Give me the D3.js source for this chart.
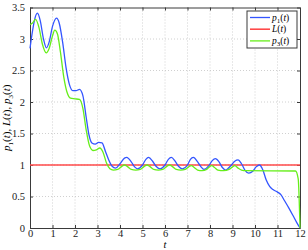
<!DOCTYPE html>
<html>
<head>
<meta charset="utf-8">
<script src="https://cdn.jsdelivr.net/npm/d3@7"></script>
<style>
  body { margin: 0; background: #fff; }
  text { font-family: "Liberation Serif", "DejaVu Serif", serif; }
</style>
</head>
<body>
<svg id="chart"></svg>
<script>
// data
var tP1 = [0, 0.1, 0.2, 0.33, 0.45, 0.6, 0.73, 0.85, 1.0, 1.18, 1.3, 1.45, 1.6, 1.75, 1.9, 2.05, 2.2, 2.35, 2.5, 2.62, 2.75, 2.9, 3.05, 3.2, 3.35, 3.5, 3.65, 3.8,
  4.0, 4.2, 4.3, 4.5, 4.65, 4.78, 5.0, 5.15, 5.27, 5.45, 5.6, 5.78, 6.0, 6.15, 6.28, 6.45, 6.6, 6.77, 7.0, 7.13, 7.26, 7.45, 7.6, 7.73,
  7.95, 8.1, 8.24, 8.4, 8.55, 8.7, 8.9, 9.1, 9.25, 9.4, 9.55, 9.72, 9.9, 10.05, 10.2, 10.35, 10.5, 10.65, 10.8, 11.0, 11.15, 11.3, 11.5, 11.7, 11.85, 12.0];
var p1 = [2.85, 3.1, 3.3, 3.41, 3.3, 3.0, 2.86, 2.95, 3.2, 3.33, 3.25, 2.95, 2.55, 2.28, 2.18, 2.18, 2.2, 2.1, 1.75, 1.48, 1.35, 1.33, 1.36, 1.35, 1.22, 1.08, 0.98, 0.95,
  1.02, 1.11, 1.12, 1.05, 0.97, 0.94, 1.0, 1.09, 1.12, 1.06, 0.98, 0.94, 1.0, 1.09, 1.12, 1.06, 0.98, 0.94, 1.0, 1.09, 1.12, 1.05, 0.97, 0.93,
  0.99, 1.07, 1.1, 1.05, 0.96, 0.92, 0.98, 1.06, 1.08, 1.02, 0.92, 0.87, 0.9, 0.97, 1.0, 0.92, 0.76, 0.66, 0.61, 0.57, 0.53, 0.44, 0.32, 0.19, 0.09, 0.0];

var tP3 = [0, 0.1, 0.25, 0.4, 0.55, 0.72, 0.85, 1.0, 1.1, 1.22, 1.35, 1.5, 1.65, 1.8, 2.0, 2.2, 2.35, 2.5, 2.65, 2.8, 2.95, 3.1, 3.25, 3.4, 3.55, 3.7, 3.9,
  4.05, 4.2, 4.35, 4.5, 4.7, 4.9, 5.05, 5.2, 5.35, 5.5, 5.7, 5.9, 6.05, 6.2, 6.35, 6.5, 6.7, 6.9, 7.05, 7.17, 7.3, 7.45, 7.65, 7.85,
  7.97, 8.08, 8.2, 8.35, 8.6, 8.85, 9.0, 9.1, 9.25, 9.4, 9.6, 11.8, 11.92, 12.0];
var p3 = [3.23, 3.25, 3.31, 3.18, 2.92, 2.78, 2.85, 3.05, 3.14, 3.08, 2.8, 2.4, 2.15, 2.06, 2.05, 2.04, 1.9, 1.55, 1.3, 1.23, 1.24, 1.27, 1.2, 1.03, 0.94, 0.92, 0.93,
  0.97, 1.0, 0.97, 0.93, 0.92, 0.93, 0.97, 1.0, 0.97, 0.93, 0.92, 0.93, 0.97, 1.0, 0.97, 0.93, 0.92, 0.93, 0.97, 0.99, 0.96, 0.92, 0.91, 0.93,
  0.97, 0.99, 0.96, 0.92, 0.91, 0.93, 0.97, 0.99, 0.95, 0.92, 0.91, 0.905, 0.78, 0.0];

var tL = [0, 12];
var L = [1, 1];

var xTicks = [0, 1, 2, 3, 4, 5, 6, 7, 8, 9, 10, 11, 12];
var yTicks = [0, 0.5, 1, 1.5, 2, 2.5, 3, 3.5];

var series = [
  { name: "p", sub: "1", t: tP1, v: p1, color: "#3355ff", width: 1.3 },
  { name: "L", sub: "", t: tL, v: L, color: "#ff4a4a", width: 1.6 },
  { name: "p", sub: "3", t: tP3, v: p3, color: "#66ee1a", width: 1.3 }
];

// dimensions
var dims = { width: 308, height: 250, margins: { top: 7.5, right: 8, bottom: 22, left: 30 } };
var w = dims.width - dims.margins.left - dims.margins.right;
var h = dims.height - dims.margins.top - dims.margins.bottom;

var svg = d3.select("#chart")
  .attr("width", dims.width)
  .attr("height", dims.height)
  .append("g")
  .attr("transform", `translate(${dims.margins.left},${dims.margins.top})`);

var x = d3.scaleLinear().domain([0, 12]).range([0, w]);
var y = d3.scaleLinear().domain([0, 3.5]).range([h, 0]);

// grid
svg.append("g")
  .selectAll("line")
  .data(xTicks.slice(1, -1))
  .enter().append("line")
  .attr("x1", d => x(d)).attr("x2", d => x(d))
  .attr("y1", 0).attr("y2", h)
  .attr("stroke", "#c4c4c4").attr("stroke-width", 0.8)
  .attr("stroke-dasharray", "1,2");

svg.append("g")
  .selectAll("line")
  .data(yTicks.slice(1, -1))
  .enter().append("line")
  .attr("y1", d => y(d)).attr("y2", d => y(d))
  .attr("x1", 0).attr("x2", w)
  .attr("stroke", "#c4c4c4").attr("stroke-width", 0.8)
  .attr("stroke-dasharray", "1,2");

// axes (ticks inside, on all four sides)
function styleAxis(g) {
  g.attr("font-family", "'Liberation Serif', serif");
  g.select(".domain").attr("stroke", "#3a3a3a");
  g.selectAll(".tick line").attr("stroke", "#3a3a3a");
  g.selectAll(".tick text")
    .attr("fill", "#222")
    .style("font-size", "10.5px")
    .style("font-family", "'Liberation Serif', serif");
}

svg.append("g")
  .attr("transform", `translate(0,${h})`)
  .call(d3.axisBottom(x).tickValues(xTicks).tickSizeInner(-3).tickSizeOuter(0).tickPadding(2).tickFormat(d3.format("d")))
  .call(styleAxis);

svg.append("g")
  .call(d3.axisLeft(y).tickValues(yTicks).tickSizeInner(-3).tickSizeOuter(0).tickPadding(5).tickFormat(d => d))
  .call(styleAxis);

svg.append("g")
  .call(d3.axisTop(x).tickValues(xTicks).tickSizeInner(-3).tickSizeOuter(0).tickFormat(""))
  .call(styleAxis);

svg.append("g")
  .attr("transform", `translate(${w},0)`)
  .call(d3.axisRight(y).tickValues(yTicks).tickSizeInner(-3).tickSizeOuter(0).tickFormat(""))
  .call(styleAxis);

// lines
var line = d3.line()
  .x(d => x(d[0]))
  .y(d => y(d[1]))
  .curve(d3.curveMonotoneX);

// draw order: L, p1, p3 on top like the picture
[series[1], series[0], series[2]].forEach(s => {
  svg.append("path")
    .datum(s.t.map((t, i) => [t, s.v[i]]))
    .attr("fill", "none")
    .attr("stroke", s.color)
    .attr("stroke-width", s.width)
    .attr("d", line);
});

// axis labels
svg.append("text")
  .attr("x", w / 2)
  .attr("y", h + 19.5)
  .attr("text-anchor", "middle")
  .style("font-size", "10.5px")
  .style("font-style", "italic")
  .text("t");

var yl = svg.append("text")
  .attr("transform", "rotate(-90)")
  .attr("x", -h / 2)
  .attr("y", -20)
  .attr("text-anchor", "middle")
  .style("font-size", "11px");

function addLabel(textSel, s) {
  textSel.append("tspan").style("font-style", "italic").text(s.name);
  if (s.sub) {
    textSel.append("tspan").attr("dy", 2.5).style("font-size", "7px").text(s.sub);
    textSel.append("tspan").attr("dy", -2.5).text("(");
  } else {
    textSel.append("tspan").text("(");
  }
  textSel.append("tspan").style("font-style", "italic").text("t");
  textSel.append("tspan").text(")");
}

series.forEach((s, i) => {
  addLabel(yl, s);
  if (i < series.length - 1) yl.append("tspan").text(", ");
});

// legend
var legend = svg.append("g")
  .attr("transform", `translate(${w - 53},${3.5})`);

legend.append("rect")
  .attr("width", 50)
  .attr("height", 37)
  .attr("fill", "#fff")
  .attr("stroke", "#3a3a3a")
  .attr("stroke-width", 1);

series.forEach((s, i) => {
  var ly = 6.5 + i * 11.7;
  legend.append("line")
    .attr("x1", 3).attr("x2", 23)
    .attr("y1", ly).attr("y2", ly)
    .attr("stroke", s.color)
    .attr("stroke-width", s.width);
  var t = legend.append("text")
    .attr("x", 25)
    .attr("y", ly + 3)
    .style("font-size", "9.5px");
  addLabel(t, s);
});
</script>
</body>
</html>
